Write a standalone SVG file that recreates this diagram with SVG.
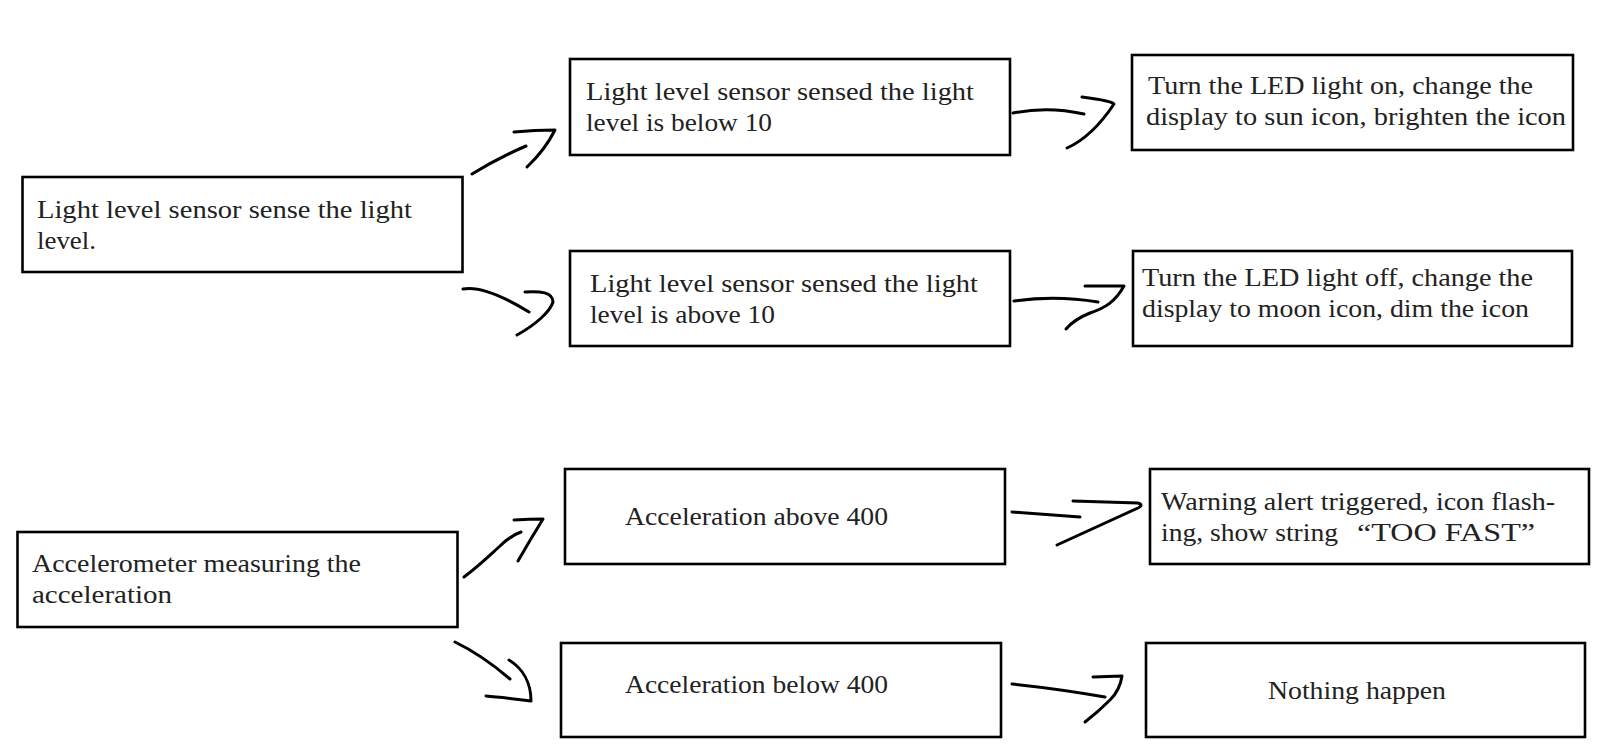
<svg xmlns="http://www.w3.org/2000/svg" width="1606" height="756" viewBox="0 0 1606 756">
<style>
.box{fill:#fff;stroke:#000;stroke-width:2.6}
.t{font-family:"Liberation Serif","Times New Roman",serif;font-size:25px;fill:#222}
.arr{fill:none;stroke:#000;stroke-width:3;stroke-linecap:round;stroke-linejoin:round}
</style>
<rect width="1606" height="756" fill="#fff"/>
<g id="n-light-sense">
<rect class="box" x="22.5" y="177" width="440" height="95"/>
<text class="t" x="37" y="218" textLength="375" lengthAdjust="spacingAndGlyphs">Light level sensor sense the light</text>
<text class="t" x="37" y="249" textLength="59" lengthAdjust="spacingAndGlyphs">level.</text>
</g>
<g id="n-light-below">
<rect class="box" x="570" y="59" width="440" height="96"/>
<text class="t" x="586" y="100" textLength="388" lengthAdjust="spacingAndGlyphs">Light level sensor sensed the light</text>
<text class="t" x="586" y="131" textLength="186" lengthAdjust="spacingAndGlyphs">level is below 10</text>
</g>
<g id="n-light-above">
<rect class="box" x="570" y="251" width="440" height="95"/>
<text class="t" x="590" y="292" textLength="388" lengthAdjust="spacingAndGlyphs">Light level sensor sensed the light</text>
<text class="t" x="590" y="323" textLength="185" lengthAdjust="spacingAndGlyphs">level is above 10</text>
</g>
<g id="n-led-on">
<rect class="box" x="1132" y="55" width="441" height="95"/>
<text class="t" x="1148" y="94" textLength="385" lengthAdjust="spacingAndGlyphs">Turn the LED light on, change the</text>
<text class="t" x="1146" y="125" textLength="420" lengthAdjust="spacingAndGlyphs">display to sun icon, brighten the icon</text>
</g>
<g id="n-led-off">
<rect class="box" x="1133" y="251" width="439" height="95"/>
<text class="t" x="1142" y="286" textLength="391" lengthAdjust="spacingAndGlyphs">Turn the LED light off, change the</text>
<text class="t" x="1142" y="317" textLength="387" lengthAdjust="spacingAndGlyphs">display to moon icon, dim the icon</text>
</g>
<g id="n-accel">
<rect class="box" x="17.5" y="532" width="440" height="95"/>
<text class="t" x="32" y="572" textLength="329" lengthAdjust="spacingAndGlyphs">Accelerometer measuring the</text>
<text class="t" x="32" y="603" textLength="140" lengthAdjust="spacingAndGlyphs">acceleration</text>
</g>
<g id="n-accel-above">
<rect class="box" x="565" y="469" width="440" height="95"/>
<text class="t" x="625" y="525" textLength="263" lengthAdjust="spacingAndGlyphs">Acceleration above 400</text>
</g>
<g id="n-accel-below">
<rect class="box" x="561" y="643" width="440" height="94"/>
<text class="t" x="625" y="693" textLength="263" lengthAdjust="spacingAndGlyphs">Acceleration below 400</text>
</g>
<g id="n-warning">
<rect class="box" x="1150" y="469" width="439" height="95"/>
<text class="t" x="1161" y="510" textLength="394" lengthAdjust="spacingAndGlyphs">Warning alert triggered, icon flash-</text>
<text class="t" x="1161" y="541" textLength="177" lengthAdjust="spacingAndGlyphs">ing, show string</text>
<text class="t" x="1357" y="541" textLength="178" lengthAdjust="spacingAndGlyphs">“TOO FAST”</text>
</g>
<g id="n-nothing">
<rect class="box" x="1146" y="643" width="439" height="94"/>
<text class="t" x="1268" y="699" textLength="178" lengthAdjust="spacingAndGlyphs">Nothing happen</text>
</g>
<g id="connectors">
<path class="arr" d="M472,174 Q498,158 526,146"/>
<path class="arr" d="M514,132 Q535,130 555,130 Q545,150 527,167"/>
<path class="arr" d="M463,289 Q485,285 529,312"/>
<path class="arr" d="M525,292 C540,291 553,292 553,302 C550,312 535,325 517,335"/>
<path class="arr" d="M1013,113 Q1048,106 1084,114"/>
<path class="arr" d="M1082,97 C1095,99 1110,100 1114,104 C1100,125 1085,140 1067,148"/>
<path class="arr" d="M1014,301 Q1056,295 1098,302"/>
<path class="arr" d="M1085,286 L1124,286 C1115,302 1105,308 1090,313 C1080,317 1072,322 1066,329"/>
<path class="arr" d="M464,577 C480,565 490,555 500,546 C508,538 515,534 521,532"/>
<path class="arr" d="M514,520 Q530,519 543,519 Q530,540 518,561"/>
<path class="arr" d="M455,642 Q482,655 510,679"/>
<path class="arr" d="M509,660 C522,668 531,682 531,701 C515,699 500,697 486,696"/>
<path class="arr" d="M1012,512 L1080,517"/>
<path class="arr" d="M1073,501 L1138,503 Q1144,505 1138,508 L1057,545"/>
<path class="arr" d="M1012,684 Q1060,689 1105,697"/>
<path class="arr" d="M1093,677 L1122,676 Q1120,690 1110,700 Q1098,712 1085,722"/>
</g>
</svg>
